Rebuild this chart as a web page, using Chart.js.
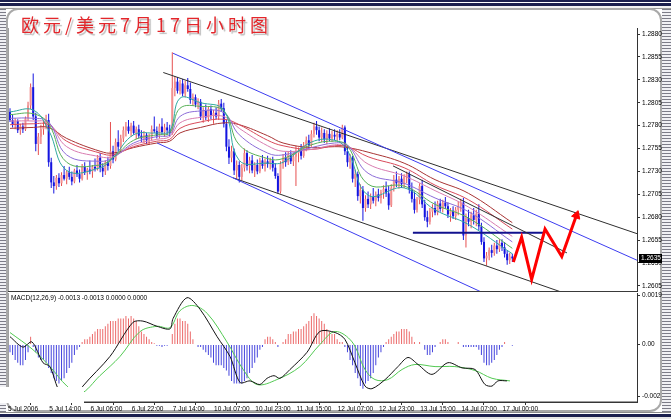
<!DOCTYPE html>
<html>
<head>
<meta charset="utf-8">
<script src="https://cdn.jsdelivr.net/npm/chart.js@4.4.0/dist/chart.umd.min.js"></script>
<style>
html, body { margin: 0; padding: 0; background: #fff; }
#wrap { position: relative; width: 671px; height: 419px; overflow: hidden; background: #fff; }
#topbar { position: absolute; left: 0; top: 0; width: 671px; height: 9px;
  background: linear-gradient(to bottom, #1b1f4e 0, #1b1f4e 2px, #fff 2px, #fff 3px, #1b1f4e 3px, #1b1f4e 6px, #f2f2f2 6px, #f2f2f2 8px, #9a9a9a 8px, #9a9a9a 9px); }
#botbar { position: absolute; left: 0; top: 412px; width: 671px; height: 7px;
  background: linear-gradient(to bottom, #8a8a8a 0, #8a8a8a 1px, #fff 1px, #fff 2px, #1b1f4e 2px, #1b1f4e 5px, #e6e6e6 5px); }
#panel { position: absolute; left: 6px; top: 8px; width: 652px; height: 400px; border: 2px solid #a9a9a9; border-radius: 12px; background: #fff; }
.stripes { position: absolute; top: 9px; height: 403px;
  background: repeating-linear-gradient(to bottom, #7c7c88 0, #7c7c88 1px, #f0f0f4 1px, #f0f0f4 3px); }
#lstripe { left: 0; width: 6px; }
#rstripe { left: 662px; width: 9px; }
canvas { position: absolute; }
#price { left: 8px; top: 20px; }
#macd { left: 8px; top: 287px; }
#title { position: absolute; left: 21px; top: 11px; font: 18px "Noto Sans CJK SC"; letter-spacing: 4px;
  color: #e3262b; text-shadow: 2px 2px 1px #bcbcbc; white-space: nowrap; }
#macdLabel { position: absolute; left: 11px; top: 294px; font: 6.5px "Liberation Sans"; color: #000; white-space: nowrap; }
#blot { position: absolute; left: 0; top: 387px; width: 84px; height: 16px; background: #fff; }
</style>
</head>
<body>
<div id="wrap">
  <div id="topbar"></div>
  <div id="panel"></div>
  <canvas id="price" width="654" height="272"></canvas>
  <canvas id="macd" width="654" height="126"></canvas>
  <div id="lstripe" class="stripes"></div>
  <div id="rstripe" class="stripes"></div>
  <div id="botbar"></div>
  <div id="blot"></div>
  <div id="title">欧元/美元7月17日小时图</div>
  <div id="macdLabel">MACD(12,26,9) -0.0013 -0.0013 0.0000 0.0000</div>
</div>
<script>
// EUR/USD 1小时K线 (7月5日 - 7月17日)
var opens = [
  1.2795,1.2786,1.2781,1.2785,1.2775,1.2779,1.2776,1.2788,1.2802,1.2822,
  1.2790,1.2760,1.2768,1.2776,1.2779,1.2786,1.2740,1.2718,1.2714,1.2723,
  1.2717,1.2726,1.2722,1.2729,1.2724,1.2719,1.2731,1.2727,1.2722,1.2735,
  1.2729,1.2732,1.2730,1.2735,1.2733,1.2745,1.2734,1.2730,1.2740,1.2736,
  1.2752,1.2743,1.2762,1.2757,1.2766,1.2775,1.2779,1.2774,1.2780,1.2772,
  1.2776,1.2769,1.2766,1.2770,1.2764,1.2768,1.2776,1.2774,1.2769,1.2779,
  1.2773,1.2778,1.2775,1.2772,1.2821,1.2828,1.2818,1.2826,1.2815,1.2824,
  1.2820,1.2808,1.2811,1.2803,1.2806,1.2790,1.2796,1.2789,1.2798,1.2791,
  1.2794,1.2790,1.2804,1.2799,1.2782,1.2757,1.2745,1.2752,1.2731,1.2737,
  1.2724,1.2734,1.2750,1.2736,1.2742,1.2731,1.2737,1.2730,1.2742,1.2736,
  1.2741,1.2738,1.2742,1.2734,1.2725,1.2708,1.2738,1.2745,1.2740,1.2748,
  1.2741,1.2746,1.2750,1.2753,1.2747,1.2758,1.2764,1.2759,1.2771,1.2779,
  1.2775,1.2767,1.2772,1.2765,1.2771,1.2766,1.2770,1.2768,1.2771,1.2767,
  1.2778,1.2752,1.2740,1.2745,1.2722,1.2727,1.2703,1.2710,1.2690,1.2700,
  1.2694,1.2702,1.2698,1.2705,1.2701,1.2707,1.2711,1.2706,1.2693,1.2712,
  1.2721,1.2717,1.2722,1.2716,1.2724,1.2727,1.2710,1.2700,1.2688,1.2699,
  1.2714,1.2694,1.2680,1.2675,1.2686,1.2690,1.2685,1.2695,1.2689,1.2696,
  1.2692,1.2683,1.2687,1.2681,1.2688,1.2692,1.2696,1.2660,1.2679,1.2675,
  1.2682,1.2677,1.2684,1.2670,1.2653,1.2635,1.2638,1.2644,1.2641,1.2649,
  1.2645,1.2652,1.2647,1.2640,1.2633,1.2637
];
var highs = [
  1.2799,1.2792,1.2788,1.2787,1.2782,1.2783,1.2790,1.2806,1.2826,1.2837,
  1.2794,1.2772,1.2781,1.2785,1.2792,1.2793,1.2745,1.2725,1.2726,1.2728,
  1.2729,1.2736,1.2731,1.2735,1.2730,1.2733,1.2737,1.2732,1.2738,1.2740,
  1.2734,1.2742,1.2737,1.2744,1.2748,1.2750,1.2739,1.2742,1.2746,1.2784,
  1.2758,1.2766,1.2775,1.2770,1.2779,1.2784,1.2786,1.2783,1.2785,1.2779,
  1.2781,1.2775,1.2774,1.2772,1.2771,1.2780,1.2790,1.2779,1.2782,1.2788,
  1.2782,1.2784,1.2781,1.2860,1.2834,1.2833,1.2830,1.2831,1.2829,1.2832,
  1.2827,1.2815,1.2814,1.2810,1.2809,1.2800,1.2803,1.2801,1.2802,1.2797,
  1.2800,1.2808,1.2809,1.2805,1.2786,1.2765,1.2758,1.2755,1.2742,1.2741,
  1.2738,1.2755,1.2753,1.2746,1.2748,1.2740,1.2743,1.2745,1.2748,1.2744,
  1.2747,1.2745,1.2746,1.2739,1.2728,1.2741,1.2749,1.2751,1.2752,1.2753,
  1.2750,1.2758,1.2756,1.2760,1.2762,1.2768,1.2770,1.2775,1.2783,1.2785,
  1.2779,1.2778,1.2776,1.2775,1.2777,1.2774,1.2776,1.2775,1.2776,1.2781,
  1.2780,1.2758,1.2749,1.2747,1.2732,1.2730,1.2716,1.2714,1.2704,1.2708,
  1.2706,1.2712,1.2708,1.2711,1.2710,1.2715,1.2719,1.2714,1.2716,1.2726,
  1.2730,1.2725,1.2728,1.2727,1.2730,1.2730,1.2718,1.2708,1.2702,1.2717,
  1.2721,1.2699,1.2687,1.2690,1.2694,1.2697,1.2698,1.2700,1.2699,1.2702,
  1.2696,1.2690,1.2692,1.2691,1.2697,1.2700,1.2701,1.2684,1.2688,1.2686,
  1.2690,1.2688,1.2694,1.2674,1.2658,1.2642,1.2647,1.2650,1.2652,1.2655,
  1.2656,1.2656,1.2653,1.2644,1.2641,1.2640
];
var lows = [
  1.2784,1.2778,1.2776,1.2772,1.2770,1.2772,1.2774,1.2785,1.2798,1.2786,
  1.2752,1.2748,1.2760,1.2770,1.2776,1.2735,1.2712,1.2706,1.2710,1.2713,
  1.2714,1.2720,1.2716,1.2721,1.2715,1.2717,1.2724,1.2718,1.2720,1.2726,
  1.2721,1.2727,1.2723,1.2730,1.2731,1.2729,1.2724,1.2726,1.2731,1.2733,
  1.2739,1.2741,1.2752,1.2750,1.2762,1.2768,1.2771,1.2768,1.2770,1.2765,
  1.2766,1.2762,1.2761,1.2760,1.2759,1.2764,1.2772,1.2766,1.2766,1.2770,
  1.2768,1.2770,1.2768,1.2770,1.2812,1.2815,1.2814,1.2812,1.2811,1.2817,
  1.2804,1.2802,1.2800,1.2798,1.2786,1.2783,1.2786,1.2784,1.2787,1.2782,
  1.2787,1.2786,1.2795,1.2778,1.2752,1.2738,1.2740,1.2726,1.2722,1.2718,
  1.2720,1.2730,1.2731,1.2728,1.2728,1.2724,1.2727,1.2728,1.2733,1.2730,
  1.2734,1.2732,1.2730,1.2722,1.2706,1.2706,1.2733,1.2735,1.2737,1.2738,
  1.2736,1.2714,1.2740,1.2743,1.2745,1.2752,1.2755,1.2757,1.2767,1.2770,
  1.2763,1.2762,1.2761,1.2760,1.2763,1.2762,1.2764,1.2763,1.2764,1.2765,
  1.2748,1.2735,1.2733,1.2718,1.2713,1.2698,1.2695,1.2676,1.2686,1.2690,
  1.2689,1.2695,1.2692,1.2697,1.2695,1.2700,1.2702,1.2688,1.2691,1.2708,
  1.2713,1.2711,1.2712,1.2712,1.2717,1.2706,1.2696,1.2684,1.2685,1.2694,
  1.2690,1.2676,1.2669,1.2672,1.2680,1.2682,1.2682,1.2686,1.2685,1.2689,
  1.2679,1.2675,1.2678,1.2677,1.2682,1.2686,1.2655,1.2647,1.2670,1.2668,
  1.2672,1.2670,1.2666,1.2650,1.2631,1.2627,1.2633,1.2636,1.2638,1.2640,
  1.2642,1.2643,1.2636,1.2628,1.2629,1.2631
];
var closes = [
  1.2786,1.2781,1.2785,1.2775,1.2779,1.2776,1.2788,1.2802,1.2822,1.2790,
  1.2760,1.2768,1.2776,1.2779,1.2786,1.2740,1.2718,1.2714,1.2723,1.2717,
  1.2726,1.2722,1.2729,1.2724,1.2719,1.2731,1.2727,1.2722,1.2735,1.2729,
  1.2732,1.2730,1.2735,1.2733,1.2745,1.2734,1.2730,1.2740,1.2736,1.2752,
  1.2743,1.2762,1.2757,1.2766,1.2775,1.2779,1.2774,1.2780,1.2772,1.2776,
  1.2769,1.2766,1.2770,1.2764,1.2768,1.2776,1.2774,1.2769,1.2779,1.2773,
  1.2778,1.2775,1.2772,1.2821,1.2828,1.2818,1.2826,1.2815,1.2824,1.2820,
  1.2808,1.2811,1.2803,1.2806,1.2790,1.2796,1.2789,1.2798,1.2791,1.2794,
  1.2790,1.2804,1.2799,1.2782,1.2757,1.2745,1.2752,1.2731,1.2737,1.2724,
  1.2734,1.2750,1.2736,1.2742,1.2731,1.2737,1.2730,1.2742,1.2736,1.2741,
  1.2738,1.2742,1.2734,1.2725,1.2708,1.2738,1.2745,1.2740,1.2748,1.2741,
  1.2746,1.2750,1.2753,1.2747,1.2758,1.2764,1.2759,1.2771,1.2779,1.2775,
  1.2767,1.2772,1.2765,1.2771,1.2766,1.2770,1.2768,1.2771,1.2767,1.2778,
  1.2752,1.2740,1.2745,1.2722,1.2727,1.2703,1.2710,1.2690,1.2700,1.2694,
  1.2702,1.2698,1.2705,1.2701,1.2707,1.2711,1.2706,1.2693,1.2712,1.2721,
  1.2717,1.2722,1.2716,1.2724,1.2727,1.2710,1.2700,1.2688,1.2699,1.2714,
  1.2694,1.2680,1.2675,1.2686,1.2690,1.2685,1.2695,1.2689,1.2696,1.2692,
  1.2683,1.2687,1.2681,1.2688,1.2692,1.2696,1.2660,1.2679,1.2675,1.2682,
  1.2677,1.2684,1.2670,1.2653,1.2635,1.2638,1.2644,1.2641,1.2649,1.2645,
  1.2652,1.2647,1.2640,1.2633,1.2637,1.2635
];

// 均线 (彩虹带), 按图取样
var maBars = [0, 9, 15, 22, 35, 40, 48, 57, 62, 66, 74, 83, 89, 100, 106, 117, 126, 131, 139, 153, 165, 178, 195];
var ma1 = [1.2795,1.2797,1.2775,1.2731,1.2734,1.2745,1.2770,1.2772,1.2774,1.2810,1.2805,1.2797,1.2742,1.2739,1.2740,1.2762,1.2764,1.2753,1.2704,1.2712,1.2688,1.2672,1.2640];
var ma2 = [1.2792,1.2793,1.2782,1.2740,1.2737,1.2745,1.2764,1.2770,1.2772,1.2799,1.2801,1.2796,1.2759,1.2744,1.2744,1.2759,1.2763,1.2758,1.2716,1.2714,1.2694,1.2679,1.2646];
var ma3 = [1.2788,1.2788,1.2784,1.2748,1.2741,1.2745,1.2761,1.2768,1.2770,1.2790,1.2796,1.2794,1.2770,1.2750,1.2748,1.2756,1.2761,1.2759,1.2728,1.2717,1.2701,1.2686,1.2653];
var ma4 = [1.2785,1.2785,1.2783,1.2757,1.2746,1.2746,1.2759,1.2765,1.2768,1.2783,1.2789,1.2790,1.2777,1.2758,1.2752,1.2754,1.2759,1.2758,1.2738,1.2725,1.2709,1.2691,1.2659];
var ma5 = [1.2781,1.2782,1.2781,1.2763,1.2750,1.2748,1.2757,1.2763,1.2765,1.2777,1.2784,1.2787,1.2781,1.2764,1.2758,1.2754,1.2758,1.2757,1.2746,1.2734,1.2715,1.2699,1.2667];
var ma6 = [1.2777,1.2778,1.2778,1.2766,1.2752,1.2750,1.2756,1.2761,1.2763,1.2772,1.2778,1.2783,1.2781,1.2769,1.2761,1.2756,1.2757,1.2756,1.2751,1.2739,1.2721,1.2706,1.2674];
var maColors = ['#2fa8a0', '#58b058', '#8c6cd8', '#d87cb0', '#d84a5a', '#a83434'];

// 趋势线 / 通道 (起点bar,终点bar) (起点价,终点价)
var upBlueBars = [63.3, 243.4],  upBluePrices = [1.2859, 1.2633];
var upBlackBars = [59.5, 243.4], upBlackPrices = [1.2838, 1.2662];
var lowBlueBars = [57.1, 186.3], lowBluePrices = [1.2761, 1.2594];
var lowBlackBars = [86.6, 215.8], lowBlackPrices = [1.2723, 1.25965];
var shortBlackBars = [148.7, 216.2], shortBlackPrices = [1.2736, 1.2641];
var levelBars = [156.4, 206.9], levelPrices = [1.2663, 1.2663];
// 预测走势 (红色箭头)
var zigBars = [195.4, 198.6, 202.5, 207.7, 214.2, 219.9];
var zigPrices = [1.2631, 1.2658, 1.2612, 1.2667, 1.2637, 1.2682];

var priceTicks = [1.2605, 1.2630, 1.2655, 1.2680, 1.2705, 1.2730, 1.2755, 1.2780, 1.2805, 1.2830, 1.2855, 1.2880];

// MACD(12,26,9)
var macdHist = [
  -0.0003,-0.0004,-0.0006,-0.0007,-0.0008,-0.0008,-0.0006,-0.0003,0.0003,-0.0001,
  -0.0003,-0.0005,-0.0006,-0.0006,-0.0007,-0.0009,-0.0011,-0.0013,-0.0014,-0.0015,
  -0.0014,-0.0013,-0.0011,-0.0009,-0.0007,-0.0004,-0.0002,-0.0001,0.0001,0.0002,
  0.0002,0.0003,0.0004,0.0005,0.0006,0.0006,0.0006,0.0007,0.0008,0.0009,
  0.0009,0.0009,0.0010,0.0010,0.0010,0.0011,0.0010,0.0011,0.0010,0.0009,
  0.0007,0.0005,0.0004,0.0003,0.0002,0.0001,0.00005,-0.00005,-0.00005,-0.0001,
  -0.00005,-0.00005,0.0000,0.0004,0.0008,0.0010,0.0010,0.0009,0.0009,0.0008,
  0.0005,0.0002,0.0000,-0.0001,-0.0001,-0.0002,-0.0003,-0.0004,-0.0005,-0.0007,
  -0.0008,-0.0008,-0.0008,-0.0009,-0.0010,-0.0012,-0.0014,-0.0015,-0.0015,-0.0015,
  -0.0015,-0.0014,-0.0013,-0.0011,-0.0009,-0.0007,-0.0005,-0.0002,-0.0001,0.0002,
  0.0003,0.0003,0.0002,0.0001,-0.0001,0.0000,0.0001,0.0002,0.0004,0.0004,
  0.0005,0.0005,0.0006,0.0006,0.0007,0.0008,0.0009,0.0011,0.0012,0.0011,
  0.0010,0.0009,0.0008,0.0006,0.0005,0.0004,0.0004,0.0002,0.0001,0.0001,
  -0.0001,-0.0003,-0.0006,-0.0008,-0.0011,-0.0013,-0.0016,-0.0017,-0.0015,-0.0014,
  -0.0013,-0.0011,-0.0008,-0.0005,-0.0003,-0.0001,0.0001,0.0002,0.0003,0.0004,
  0.0005,0.0005,0.0006,0.0006,0.0006,0.0005,0.0003,0.0001,0.0000,0.0001,
  0.0000,-0.0002,-0.0004,-0.0004,-0.0003,-0.0001,0.0000,0.0001,0.0002,0.0002,
  0.0001,0.0000,0.0000,0.0000,0.0001,0.0000,-0.0001,-0.0001,-0.0001,-0.0001,
  -0.0001,-0.0001,-0.0002,-0.0004,-0.0007,-0.0008,-0.0008,-0.0007,-0.0006,-0.0004,
  -0.0002,-0.0001,0.0001,0.0000,0.0000,-0.00005
];
var macdLineBars = [0,5,8.5,12.8,15.5,18.6,21.4,25.2,28.3,38.8,47.7,51.6,57.1,62.1,63.3,68.7,73.8,80.4,85.4,89.3,93.2,97,99.8,102.5,104.8,108.7,115.3,120.3,126.2,130,133.9,137.8,140.5,145.6,150.6,154.5,158.4,163.8,170,175.5,180.5,184.4,187.1,189.4,192.9];
var macdLine = [0.0003,-0.0001,0.0001,-0.0007,-0.00085,-0.0017,-0.0021,-0.0021,-0.0016,-0.00046,0.00085,0.0009,0.0007,0.0006,0.001,0.0018,0.00135,0.0003,-0.00046,-0.00146,-0.0014,-0.00154,-0.0013,-0.0012,-0.0013,-0.00096,-0.0003,0.0005,0.00046,0.0002,-0.0007,-0.0016,-0.0017,-0.00135,-0.00085,-0.0005,-0.00077,-0.00115,-0.0007,-0.0009,-0.00096,-0.00154,-0.0016,-0.0014,-0.0014];
var signalBars = [0,8.9,15.5,22.1,27.2,34.9,42.7,50.5,57.1,62.1,66,71,76.5,84.2,90.5,95.9,103.6,112.6,120.3,126.2,132.8,137.8,141.7,146.7,152.2,157.2,165,172.7,180.5,187.1,194.1];
var signalLine = [0.00046,-0.0002,-0.00085,-0.0016,-0.0019,-0.0012,-0.00046,0.0005,0.0007,0.00065,0.0013,0.0015,0.0012,0.0001,-0.00096,-0.00154,-0.00135,-0.00085,0.0,0.0005,0.0001,-0.00096,-0.00135,-0.00135,-0.00096,-0.00077,-0.00085,-0.00085,-0.001,-0.0013,-0.0014];
var macdTicks = [-0.002, 0, 0.0019];
var macdTickLabels = ['-0.002', '0.00', '0.0019'];

var timeTickBars = [0, 16, 32, 48, 64, 80, 96, 112, 128, 144, 160, 176, 192];
var timeLabels = ['5 Jul 2006', '5 Jul 14:00', '6 Jul 06:00', '6 Jul 22:00', '7 Jul 14:00', '10 Jul 07:00',
  '10 Jul 23:00', '11 Jul 15:00', '12 Jul 07:00', '12 Jul 23:00', '13 Jul 15:00', '14 Jul 07:00', '17 Jul 00:00'];

var xMin = -0.78, xMax = 243.4;
var tickFont = { family: 'Liberation Sans', size: 6.5 };

function pts(xs, ys) {
  return xs.map(function (x, i) { return { x: x, y: ys[i] }; });
}
function isUp(i) { return closes[i] >= opens[i]; }
function trend(xs, ys, color, width) {
  return { type: 'line', data: pts(xs, ys), borderColor: color, borderWidth: width || 1,
    pointRadius: 0, tension: 0, order: 2 };
}

// 画框线
var framePlugin = {
  id: 'frame',
  afterDatasetsDraw: function (chart, args, opts) {
    var a = chart.chartArea, ctx = chart.ctx;
    ctx.save();
    ctx.strokeStyle = '#a0a0a0';
    ctx.lineWidth = 1;
    ctx.beginPath(); ctx.moveTo(a.left + 0.5, a.top); ctx.lineTo(a.left + 0.5, a.bottom); ctx.stroke();
    ctx.strokeStyle = '#3a3a3a';
    ctx.lineWidth = opts.bottomWidth || 1;
    ctx.beginPath(); ctx.moveTo(a.left, a.bottom); ctx.lineTo(a.right, a.bottom); ctx.stroke();
    ctx.restore();
  }
};

// 当前价格标签
var lastPricePlugin = {
  id: 'lastPrice',
  afterDraw: function (chart) {
    var last = closes[closes.length - 1];
    var y = chart.scales.y.getPixelForValue(last);
    var x = chart.chartArea.right + 2;
    var ctx = chart.ctx;
    ctx.save();
    ctx.fillStyle = '#000';
    ctx.fillRect(x, Math.round(y) - 4, 23, 9);
    ctx.fillStyle = '#fff';
    ctx.font = '6.5px "Liberation Sans"';
    ctx.textBaseline = 'middle';
    ctx.fillText(last.toFixed(4), x + 2, Math.round(y) + 0.5);
    ctx.restore();
  }
};

var wickData = highs.map(function (h, i) { return { x: i, y: [lows[i], h] }; });
var bodyData = closes.map(function (c, i) { return { x: i, y: [opens[i], c] }; });

var maSets = [ma1, ma2, ma3, ma4, ma5, ma6].map(function (m, k) {
  return { type: 'line', data: pts(maBars, m), borderColor: maColors[k], borderWidth: 1,
    pointRadius: 0, tension: 0.4, order: 5 };
});

var priceChart = new Chart(document.getElementById('price'), {
  type: 'bar',
  data: {
    datasets: [
      { data: wickData, barThickness: 1, grouped: false, inflateAmount: 0, order: 20,
        backgroundColor: function (c) { return isUp(c.dataIndex) ? '#e65050' : '#1414e0'; } },
      { data: bodyData, barThickness: 2, grouped: false, inflateAmount: 0, order: 19,
        backgroundColor: function (c) { return isUp(c.dataIndex) ? '#f29090' : '#1414e0'; } }
    ].concat(maSets).concat([
      trend(upBlueBars, upBluePrices, '#3c3cf0'),
      trend(lowBlueBars, lowBluePrices, '#3c3cf0'),
      trend(upBlackBars, upBlackPrices, '#2e2e2e'),
      trend(lowBlackBars, lowBlackPrices, '#2e2e2e'),
      trend(shortBlackBars, shortBlackPrices, '#2e2e2e'),
      trend(levelBars, levelPrices, '#12128e', 2),
      { type: 'line', data: pts(zigBars, zigPrices), borderColor: '#ff0000', backgroundColor: '#ff0000',
        borderWidth: 3, borderJoinStyle: 'miter', tension: 0, order: 0,
        pointStyle: 'triangle', pointBorderWidth: 1, pointBorderColor: '#ff0000',
        pointRadius: function (c) { return c.dataIndex === zigBars.length - 1 ? 5 : 0; },
        pointRotation: function (c) {
          var n = zigBars.length, sx = c.chart.scales.x, sy = c.chart.scales.y;
          var dx = sx.getPixelForValue(zigBars[n - 1]) - sx.getPixelForValue(zigBars[n - 2]);
          var dy = sy.getPixelForValue(zigPrices[n - 1]) - sy.getPixelForValue(zigPrices[n - 2]);
          return Math.atan2(dx, -dy) * 180 / Math.PI;
        } }
    ])
  },
  options: {
    responsive: false, animation: false, devicePixelRatio: 1, events: [],
    layout: { autoPadding: false, padding: { top: 8, left: 0, right: 0, bottom: 0 } },
    plugins: { legend: { display: false }, tooltip: { enabled: false }, frame: { bottomWidth: 2 } },
    scales: {
      x: { type: 'linear', min: xMin, max: xMax, offset: false, display: false },
      y: {
        position: 'right', min: 1.25983, max: 1.28866,
        afterBuildTicks: function (s) { s.ticks = priceTicks.map(function (v) { return { value: v }; }); },
        afterFit: function (s) { s.width = 25; s.paddingTop = 0; s.paddingBottom = 0; },
        ticks: { font: tickFont, color: '#000', padding: 2,
          callback: function (v) { return v.toFixed(4); } },
        grid: { drawOnChartArea: false, drawTicks: true, tickLength: 3, color: '#333' },
        border: { display: true, color: '#333' }
      }
    }
  },
  plugins: [framePlugin, lastPricePlugin]
});

var macdChart = new Chart(document.getElementById('macd'), {
  type: 'bar',
  data: {
    datasets: [
      { data: macdHist.map(function (v, i) { return { x: i, y: v }; }), barThickness: 1, grouped: false,
        inflateAmount: 0, order: 10,
        backgroundColor: function (c) { return macdHist[c.dataIndex] >= 0 ? '#ec6a6a' : '#4444dd'; } },
      { type: 'line', data: pts(signalBars, signalLine), borderColor: '#52c952', borderWidth: 1,
        pointRadius: 0, tension: 0.35, order: 2 },
      { type: 'line', data: pts(macdLineBars, macdLine), borderColor: '#111', borderWidth: 1,
        pointRadius: 0, tension: 0.3, order: 1 }
    ]
  },
  options: {
    responsive: false, animation: false, devicePixelRatio: 1, events: [],
    layout: { autoPadding: false, padding: { top: 6, left: 0, right: 0, bottom: 0 } },
    plugins: { legend: { display: false }, tooltip: { enabled: false } },
    scales: {
      x: {
        type: 'linear', min: xMin, max: xMax, offset: false,
        afterBuildTicks: function (s) { s.ticks = timeTickBars.map(function (v) { return { value: v }; }); },
        afterFit: function (s) { s.height = 11; s.paddingLeft = 0; s.paddingRight = 0; },
        ticks: { font: tickFont, color: '#000', padding: 0, align: 'start', labelOffset: -2,
          autoSkip: false, maxRotation: 0, minRotation: 0,
          callback: function (v, i) { return timeLabels[i]; } },
        grid: { drawOnChartArea: false, drawTicks: true, tickLength: 3, color: '#333' },
        border: { display: true, color: '#333' }
      },
      y: {
        position: 'right', min: -0.002212, max: 0.001981,
        afterBuildTicks: function (s) { s.ticks = macdTicks.map(function (v) { return { value: v }; }); },
        afterFit: function (s) { s.width = 25; s.paddingTop = 0; s.paddingBottom = 0; },
        ticks: { font: tickFont, color: '#000', padding: 2,
          callback: function (v, i) { return macdTickLabels[i]; } },
        grid: { drawOnChartArea: false, drawTicks: true, tickLength: 3, color: '#333' },
        border: { display: true, color: '#333' }
      }
    }
  },
  plugins: [framePlugin]
});
</script>
</body>
</html>
